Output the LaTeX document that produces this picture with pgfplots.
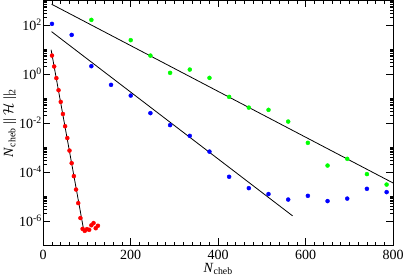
\documentclass[border=0pt]{standalone}
\usepackage{pgfplots}
\pgfplotsset{compat=1.18}
\usepackage{fontspec}
\setmainfont{Liberation Serif}
\definecolor{gred}{RGB}{255,0,0}
\definecolor{gblue}{RGB}{0,0,255}
\definecolor{ggreen}{RGB}{0,255,0}
\pgfplotstableread{
x y
20 5.6
25 2.0
30 0.67
35 0.216
40 0.072
45 0.023
50 0.0073
55 0.0024
60 7.4e-4
65 2.26e-4
70 6.7e-5
75 1.9e-5
80 5.3e-6
85 1.3e-6
90 4.7e-7
95 3.9e-7
100 4.6e-7
105 4.3e-7
110 6.6e-7
115 8.1e-7
120 5.0e-7
125 6.3e-7
}\redtab
\pgfplotstableread{
x y
20 110
65 39
110 2.06
155 0.356
200 0.13
245 0.025
290 0.0081
335 0.00295
380 6.7e-4
425 6.3e-5
470 2.16e-5
515 1.24e-5
560 7.4e-6
605 1.05e-5
650 6.4e-6
695 8.1e-6
740 2.03e-5
785 1.49e-5
}\bluetab
\pgfplotstableread{
x y
110 160
200 23.8
245 5.58
290 1.1
335 1.5
380 0.687
425 0.115
470 0.042
515 0.034
560 0.0113
605 0.00153
650 1.81e-4
695 3.4e-4
740 8.1e-5
785 3.03e-5
}\greentab
\begin{document}
\begin{tikzpicture}
\begin{axis}[
 scale only axis, width=350pt, height=245pt,
 xmin=0, xmax=800, ymode=log, ymin=1e-7, ymax=1e3,
 xtick={0,200,400,600,800}, minor x tick num=9,
 ytick={1e-6,1e-4,1e-2,1,1e2},
 yticklabels={10\textsuperscript{-6},10\textsuperscript{-4},10\textsuperscript{-2},10\textsuperscript{0},10\textsuperscript{2}},
 minor ytick={2e-6,3e-6,4e-6,5e-6,6e-6,7e-6,8e-6,9e-6,1e-5,
   2e-4,3e-4,4e-4,5e-4,6e-4,7e-4,8e-4,9e-4,1e-3,
   2e-2,3e-2,4e-2,5e-2,6e-2,7e-2,8e-2,9e-2,1e-1,
   2,3,4,5,6,7,8,9,10,
   200,300,400,500,600,700,800,900},
 tick align=inside, tick pos=both,
 xticklabel pos=bottom, yticklabel pos=left,
 major tick length=7pt, minor tick length=3.5pt,
 every tick/.style={black, line width=0.6pt},
 axis line style={line width=0.8pt},
 ticklabel style={font=\fontsize{14}{16}\selectfont},
 label style={font=\fontsize{14}{16}\selectfont},
 /pgf/number format/assume math mode=true,
 xticklabel style={yshift=-1pt},
 yticklabel style={xshift=2pt},
 xlabel={\textit{N}\textsubscript{cheb}},
 ylabel={\textit{N}\textsubscript{cheb} || $\mathcal{H}$ ||\textsubscript{2}},
 xlabel style={yshift=3pt},
 ylabel style={yshift=-4pt},
 clip=true,
]
\addplot[only marks, mark=*, mark size=2pt, gred, mark options={draw=gred, fill=gred}] table {\redtab};
\addplot[only marks, mark=*, mark size=2pt, gblue, mark options={draw=gblue, fill=gblue}] table {\bluetab};
\addplot[only marks, mark=*, mark size=2pt, ggreen, mark options={draw=ggreen, fill=ggreen}] table {\greentab};
\addplot[black, line width=0.8pt] coordinates {(18,9.6) (92,4.7e-7)};
\addplot[black, line width=0.8pt] coordinates {(19,53) (570,1.6e-6)};
\addplot[black, line width=0.8pt] coordinates {(19,700) (800,3.5e-5)};
\end{axis}
\end{tikzpicture}
\end{document}
